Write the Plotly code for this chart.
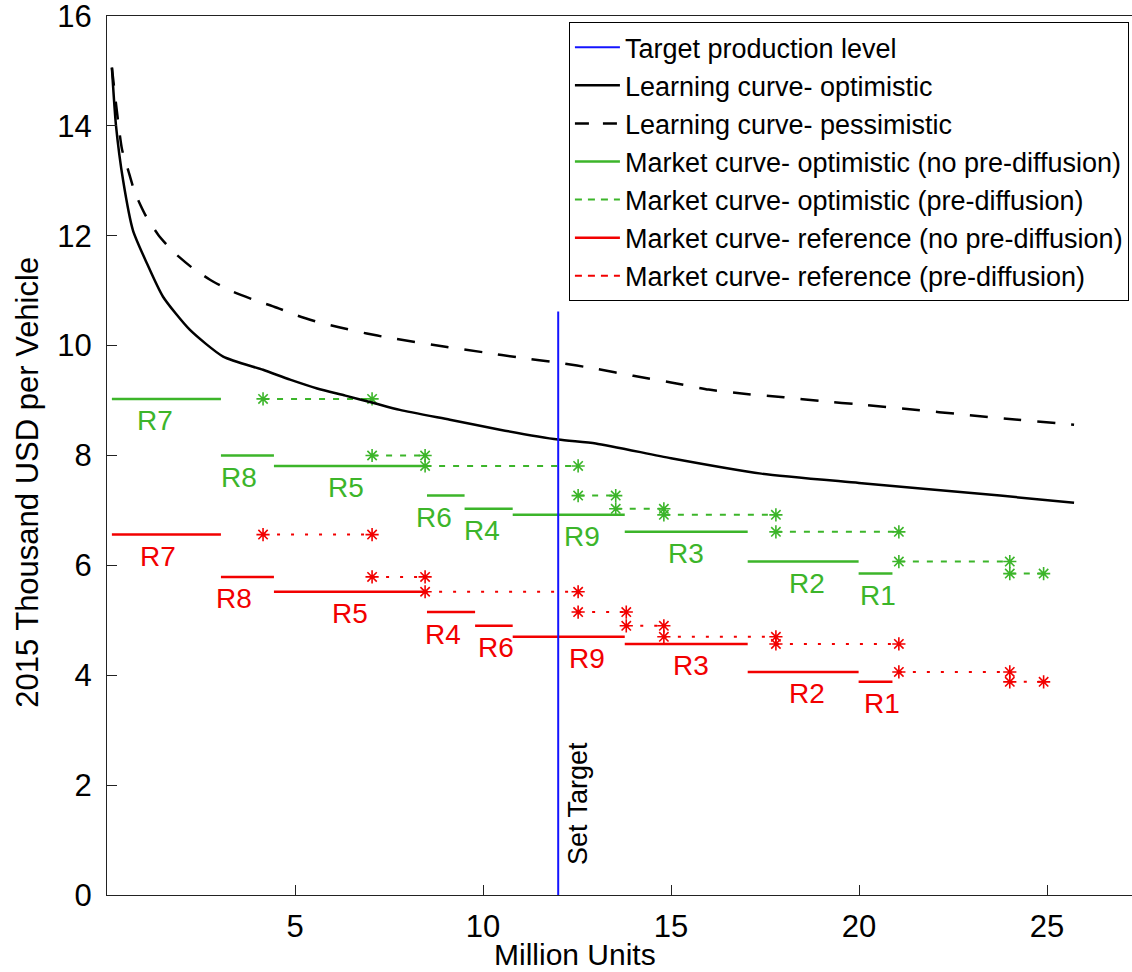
import plotly.graph_objects as go

FONT = "Liberation Sans, Arial, Helvetica, sans-serif"

# ---------------- data ----------------
target_x = 12.0          # million units
target_top = 10.62       # top of the target marker line

# learning curves (thousand USD per vehicle vs million units)
lc_opt_x = [0.13, 0.24, 0.43, 0.69, 1.06, 1.49, 2.2, 3.09, 4.15, 4.87, 5.59, 6.34, 7.07, 7.79,
            9.12, 10.45, 12.0, 13.0, 15.0, 17.4, 20.0, 23.75, 25.72]
lc_opt_y = [15.06, 14.0, 13.0, 12.1, 11.5, 10.89, 10.29, 9.8, 9.56, 9.38, 9.22, 9.09, 8.96, 8.83,
            8.65, 8.47, 8.29, 8.22, 7.95, 7.67, 7.5, 7.27, 7.14]

lc_pes_x = [0.13, 0.4, 0.56, 0.74, 1.01, 1.36, 1.76, 2.26, 2.74, 3.35, 3.88, 4.52, 5.05,
            5.66, 6.2, 6.91, 7.45, 9.0, 10.0, 11.0, 12.0, 13.0, 14.0, 15.0, 16.0, 17.0,
            18.0, 19.0, 20.0, 24.23, 25.72]
lc_pes_y = [15.06, 13.57, 13.2, 12.79, 12.39, 12.02, 11.71, 11.42, 11.2, 10.98, 10.84, 10.69,
            10.55, 10.42, 10.33, 10.22, 10.15, 9.98, 9.88, 9.78, 9.69, 9.58, 9.45, 9.33, 9.2,
            9.12, 9.06, 8.99, 8.93, 8.65, 8.56]

# market curves: region volumes (million units) and costs
start_volume = 0.13
pre_diffusion_volume = 4.02
region_volume = {"R7": 2.9, "R8": 1.41, "R5": 4.07, "R6": 1.0, "R4": 1.28,
                 "R9": 2.98, "R3": 3.27, "R2": 2.95, "R1": 0.9}
green_order = ["R7", "R8", "R5", "R6", "R4", "R9", "R3", "R2", "R1"]
red_order = ["R7", "R8", "R5", "R4", "R6", "R9", "R3", "R2", "R1"]
green_cost = {"R7": 9.03, "R8": 8.0, "R5": 7.81, "R6": 7.27, "R4": 7.03,
              "R9": 6.92, "R3": 6.61, "R2": 6.07, "R1": 5.85}
red_cost = {"R7": 6.56, "R8": 5.79, "R5": 5.52, "R4": 5.15, "R6": 4.90,
            "R9": 4.70, "R3": 4.57, "R2": 4.06, "R1": 3.88}

x_ticks = [5, 10, 15, 20, 25]
y_ticks = [0, 2, 4, 6, 8, 10, 12, 14, 16]

# ---------------- styling ----------------
GREEN = "#3cb52a"
RED = "#f20000"
BLUE = "#1414ff"
label_dx_green = {"R7": -11, "R8": -8, "R5": -4, "R6": -12, "R4": -7, "R9": 13,
                  "R3": 0, "R2": 4, "R1": 2}
label_dx_red = {"R7": -8, "R8": -13, "R5": 0, "R4": -8, "R6": 2, "R9": 18,
                "R3": 5, "R2": 4, "R1": 6}


def segments(order, volume, cost, x0):
    xs, ys, centers = [], [], []
    x = x0
    for r in order:
        w = volume[r]
        xs += [x, x + w, None]
        ys += [cost[r], cost[r], None]
        centers.append((r, x + w / 2.0, cost[r]))
        x += w
    return xs, ys, centers


fig = go.Figure()

# legend-only entries
legend_items = [
    ("Target production level", BLUE, "solid", 2),
    ("Learning curve- optimistic", "black", "solid", 2.5),
    ("Learning curve- pessimistic", "black", "14px,14px", 2.5),
    ("Market curve- optimistic (no pre-diffusion)", GREEN, "solid", 2.5),
    ("Market curve- optimistic (pre-diffusion)", GREEN, "7px,6px", 2),
    ("Market curve- reference (no pre-diffusion)", RED, "solid", 2.5),
    ("Market curve- reference (pre-diffusion)", RED, "7px,6px", 2),
]
for name, col, dash, w in legend_items:
    fig.add_trace(go.Scatter(x=[None], y=[None], mode="lines", name=name,
                             line=dict(color=col, dash=dash, width=w), showlegend=True))

annotations = []
for order, cost, col, dxs, dash in [(green_order, green_cost, GREEN, label_dx_green, "6px,8px"),
                                    (red_order, red_cost, RED, label_dx_red, "3px,11px")]:
    xs, ys, centers = segments(order, region_volume, cost, start_volume)
    fig.add_trace(go.Scatter(x=xs, y=ys, mode="lines", showlegend=False,
                             line=dict(color=col, width=2.5), hoverinfo="skip"))
    pxs, pys, _ = segments(order, region_volume, cost, start_volume + pre_diffusion_volume)
    fig.add_trace(go.Scatter(x=pxs, y=pys, mode="lines+markers", showlegend=False,
                             line=dict(color=col, width=2, dash=dash),
                             marker=dict(symbol="asterisk-open", size=11,
                                         line=dict(color=col, width=1.6)),
                             hoverinfo="skip"))
    for r, cx, cy in centers:
        annotations.append(dict(x=cx, y=cy, xref="x", yref="y", text=r, showarrow=False,
                                xanchor="center", yanchor="middle", xshift=dxs[r], yshift=-22,
                                font=dict(family=FONT, size=28, color=col)))

fig.add_trace(go.Scatter(x=lc_opt_x, y=lc_opt_y, mode="lines", showlegend=False,
                         line=dict(color="black", width=2.5, shape="spline", smoothing=0.6),
                         hoverinfo="skip"))
fig.add_trace(go.Scatter(x=lc_pes_x, y=lc_pes_y, mode="lines", showlegend=False,
                         line=dict(color="black", width=2.5, dash="18px,16px",
                                   shape="spline", smoothing=0.6),
                         hoverinfo="skip"))
fig.add_trace(go.Scatter(x=[target_x, target_x], y=[0, target_top], mode="lines",
                         showlegend=False, line=dict(color=BLUE, width=2), hoverinfo="skip"))

annotations.append(dict(x=target_x, y=1.66, xref="x", yref="y", text="Set Target",
                        showarrow=False, textangle=-90, xanchor="left", yanchor="middle",
                        xshift=3, font=dict(family=FONT, size=27, color="black")))
annotations.append(dict(x=(575 - 107) / 1025.0, y=-(41 / 879.0), xref="paper", yref="paper",
                        text="Million Units", showarrow=False, xanchor="center", yanchor="top",
                        font=dict(family=FONT, size=30, color="black")))
annotations.append(dict(x=-0.077, y=0.469, xref="paper", yref="paper",
                        text="2015 Thousand USD per Vehicle", showarrow=False, textangle=-90,
                        xanchor="center", yanchor="middle",
                        font=dict(family=FONT, size=31, color="black")))

fig.update_layout(
    width=1132, height=972,
    margin=dict(l=107, r=0, t=16, b=77, pad=0),
    paper_bgcolor="white", plot_bgcolor="white",
    font=dict(family=FONT, size=30, color="black"),
    showlegend=True,
    legend=dict(x=0.997, y=0.993, xanchor="right", yanchor="top",
                bordercolor="black", borderwidth=1, bgcolor="white",
                font=dict(family=FONT, size=27, color="black"),
                tracegroupgap=0, itemwidth=45),
    annotations=annotations,
    xaxis=dict(range=[0, 1025 / 37.6], tickvals=x_ticks, ticks="inside", ticklen=10,
               tickcolor="#222", showline=True, linecolor="#222", linewidth=1, mirror=True,
               showgrid=False, zeroline=False, tickfont=dict(size=31), ticklabelstandoff=4),
    yaxis=dict(range=[0, 16], tickvals=y_ticks, ticks="inside", ticklen=10,
               tickcolor="#222", showline=True, linecolor="#222", linewidth=1, mirror=False,
               showgrid=False, zeroline=False, tickfont=dict(size=31), ticklabelstandoff=8,
               ticklabeloverflow="allow"),
)

fig.write_html("out.html")
